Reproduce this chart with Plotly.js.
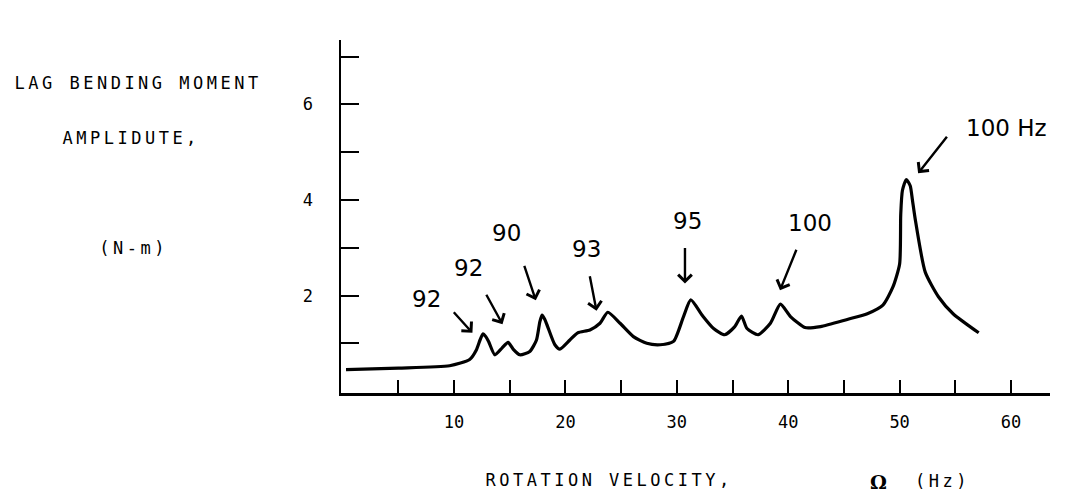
<!DOCTYPE html>
<html><head><meta charset="utf-8">
<script src="https://cdn.plot.ly/plotly-3.0.1.min.js"></script>
<style>html,body{margin:0;padding:0;background:#fff;} #chart{width:1075px;height:501px;}</style>
</head><body><div id="chart"></div>
<script>
// Rotation velocity (Hz)
const omega = [0.3, 5, 9.6, 11.4, 12.0, 12.35, 12.6, 12.85, 13.1, 13.66, 14.3, 14.85, 15.3, 15.9, 16.8, 17.4, 17.7, 17.9, 18.15, 18.4, 19.05, 19.5, 20.4, 21.1, 22.2, 23.1, 23.8, 24.9, 26.1, 27.3, 28.5, 29.7, 30.6, 31.25, 32.3, 33.3, 34.3, 35.2, 35.8, 36.3, 37.3, 38.4, 39.3, 40.2, 41.5, 42.9, 45.3, 47.1, 48.5, 49.4, 50.0, 50.1, 50.25, 50.6, 50.95, 51.15, 51.4, 52.3, 53.5, 54.8, 57.1];
// Lag bending moment amplitude (N-m)
const amplitude = [0.45, 0.48, 0.53, 0.66, 0.86, 1.08, 1.20, 1.14, 1.04, 0.76, 0.90, 1.02, 0.88, 0.76, 0.83, 1.07, 1.45, 1.59, 1.50, 1.35, 0.97, 0.88, 1.07, 1.22, 1.28, 1.42, 1.65, 1.42, 1.14, 1.00, 0.97, 1.04, 1.56, 1.91, 1.58, 1.31, 1.18, 1.35, 1.57, 1.31, 1.18, 1.42, 1.82, 1.56, 1.33, 1.35, 1.50, 1.62, 1.80, 2.18, 2.66, 3.70, 4.20, 4.43, 4.30, 4.00, 3.60, 2.49, 1.97, 1.62, 1.22];

const xTickVals = [5, 10, 15, 20, 25, 30, 35, 40, 45, 50, 55, 60];
const xTickText = ['', '10', '', '20', '', '30', '', '40', '', '50', '', '60'];
const yTickVals = [1, 2, 3, 4, 5, 6, 7];
const yTickText = ['', '2', '', '4', '', '6', ''];

// Peak callouts: label, arrow tip position (omega, amplitude)
const peakLabels = ['92', '92', '90', '93', '95', '100', '100 Hz'];
const peakOmega = [11.65, 14.35, 17.34, 22.79, 30.73, 39.26, 51.66];
const peakAmp = [1.22, 1.40, 1.90, 1.68, 2.25, 2.11, 4.56];

// layout-only offsets (pixels)
const arrowAx = [-20, -17, -12, -7, 0, 17, 30];
const arrowAy = [-22, -31, -36, -36, -37, -42, -38];
const textDx = [-46, -34, -29, -10, 3, 30, 88];
const textDy = [34, 56, 67, 62, 63, 67, 45];

const L = {l: 341, r: 25, t: 40, b: 108, W: 1075, H: 501};
const pw = L.W - L.l - L.r, ph = L.H - L.t - L.b;
function px(x) { return (x - L.l) / pw; }
function py(y) { return (L.H - L.b - y) / ph; }

const mono = 'DejaVu Sans Mono, Liberation Mono, monospace';
const hand = 'DejaVu Sans, Open Sans, sans-serif';

const annotations = [];
const labelSpec = [
  ['LAG BENDING MOMENT', 138, 83],
  ['AMPLIDUTE,', 131, 138],
  ['(N-m)', 133, 248],
  ['ROTATION VELOCITY,', 609, 480],
  ['(Hz)', 942, 481]
];
labelSpec.forEach(s => annotations.push({
  text: s[0], xref: 'paper', yref: 'paper', x: px(s[1]), y: py(s[2]),
  xanchor: 'center', yanchor: 'middle', showarrow: false,
  font: {family: mono, size: 17, color: '#000'}
}));
annotations.push({
  text: '<b>Ω</b>', xref: 'paper', yref: 'paper', x: px(878), y: py(482),
  xanchor: 'center', yanchor: 'middle', showarrow: false,
  font: {family: 'DejaVu Serif, serif', size: 19, color: '#000'}
});
for (let i = 0; i < peakLabels.length; i++) {
  annotations.push({
    text: '', x: peakOmega[i], y: peakAmp[i], xref: 'x', yref: 'y',
    showarrow: true, ax: arrowAx[i], ay: arrowAy[i], axref: 'pixel', ayref: 'pixel',
    arrowhead: 4, arrowsize: 1.1, arrowwidth: 2.4, arrowcolor: '#000', standoff: 0, startstandoff: 0
  });
  annotations.push({
    text: peakLabels[i], x: peakOmega[i], y: peakAmp[i], xref: 'x', yref: 'y',
    xshift: textDx[i], yshift: textDy[i], showarrow: false,
    xanchor: 'center', yanchor: 'middle',
    font: {family: hand, size: 23, color: '#000'}
  });
}

const trace = {
  x: omega, y: amplitude, type: 'scatter', mode: 'lines',
  line: {color: '#000', width: 3.2, shape: 'spline', smoothing: 0.6},
  hoverinfo: 'skip'
};

const layout = {
  width: L.W, height: L.H,
  margin: {l: L.l, r: L.r, t: L.t, b: L.b, pad: 0},
  paper_bgcolor: '#fff', plot_bgcolor: '#fff',
  showlegend: false,
  xaxis: {
    range: [-0.15, 63.5], showgrid: false, zeroline: false,
    showline: true, linecolor: '#000', linewidth: 2.5,
    ticks: 'inside', ticklen: 13, tickwidth: 2, tickcolor: '#000',
    tickmode: 'array', tickvals: xTickVals, ticktext: xTickText,
    ticklabelstandoff: 12,
    tickfont: {family: mono, size: 17, color: '#000'}, fixedrange: true
  },
  yaxis: {
    range: [-0.04, 7.35], showgrid: false, zeroline: false,
    showline: true, linecolor: '#000', linewidth: 2.5,
    ticks: 'inside', ticklen: 18, tickwidth: 2, tickcolor: '#000',
    tickmode: 'array', tickvals: yTickVals, ticktext: yTickText,
    ticklabelstandoff: 22,
    tickfont: {family: mono, size: 17, color: '#000'}, fixedrange: true
  },
  annotations: annotations
};

Plotly.newPlot('chart', [trace], layout, {staticPlot: true, displayModeBar: false}).then(() => {
  const spaced = ['LAG BENDING MOMENT', 'AMPLIDUTE,', '(N-m)', 'ROTATION VELOCITY,', '(Hz)'];
  document.querySelectorAll('.annotation-text').forEach(t => {
    if (spaced.indexOf(t.getAttribute('data-unformatted')) >= 0) {
      t.style.letterSpacing = '3.5px';
    }
  });
});
</script>
</body></html>
